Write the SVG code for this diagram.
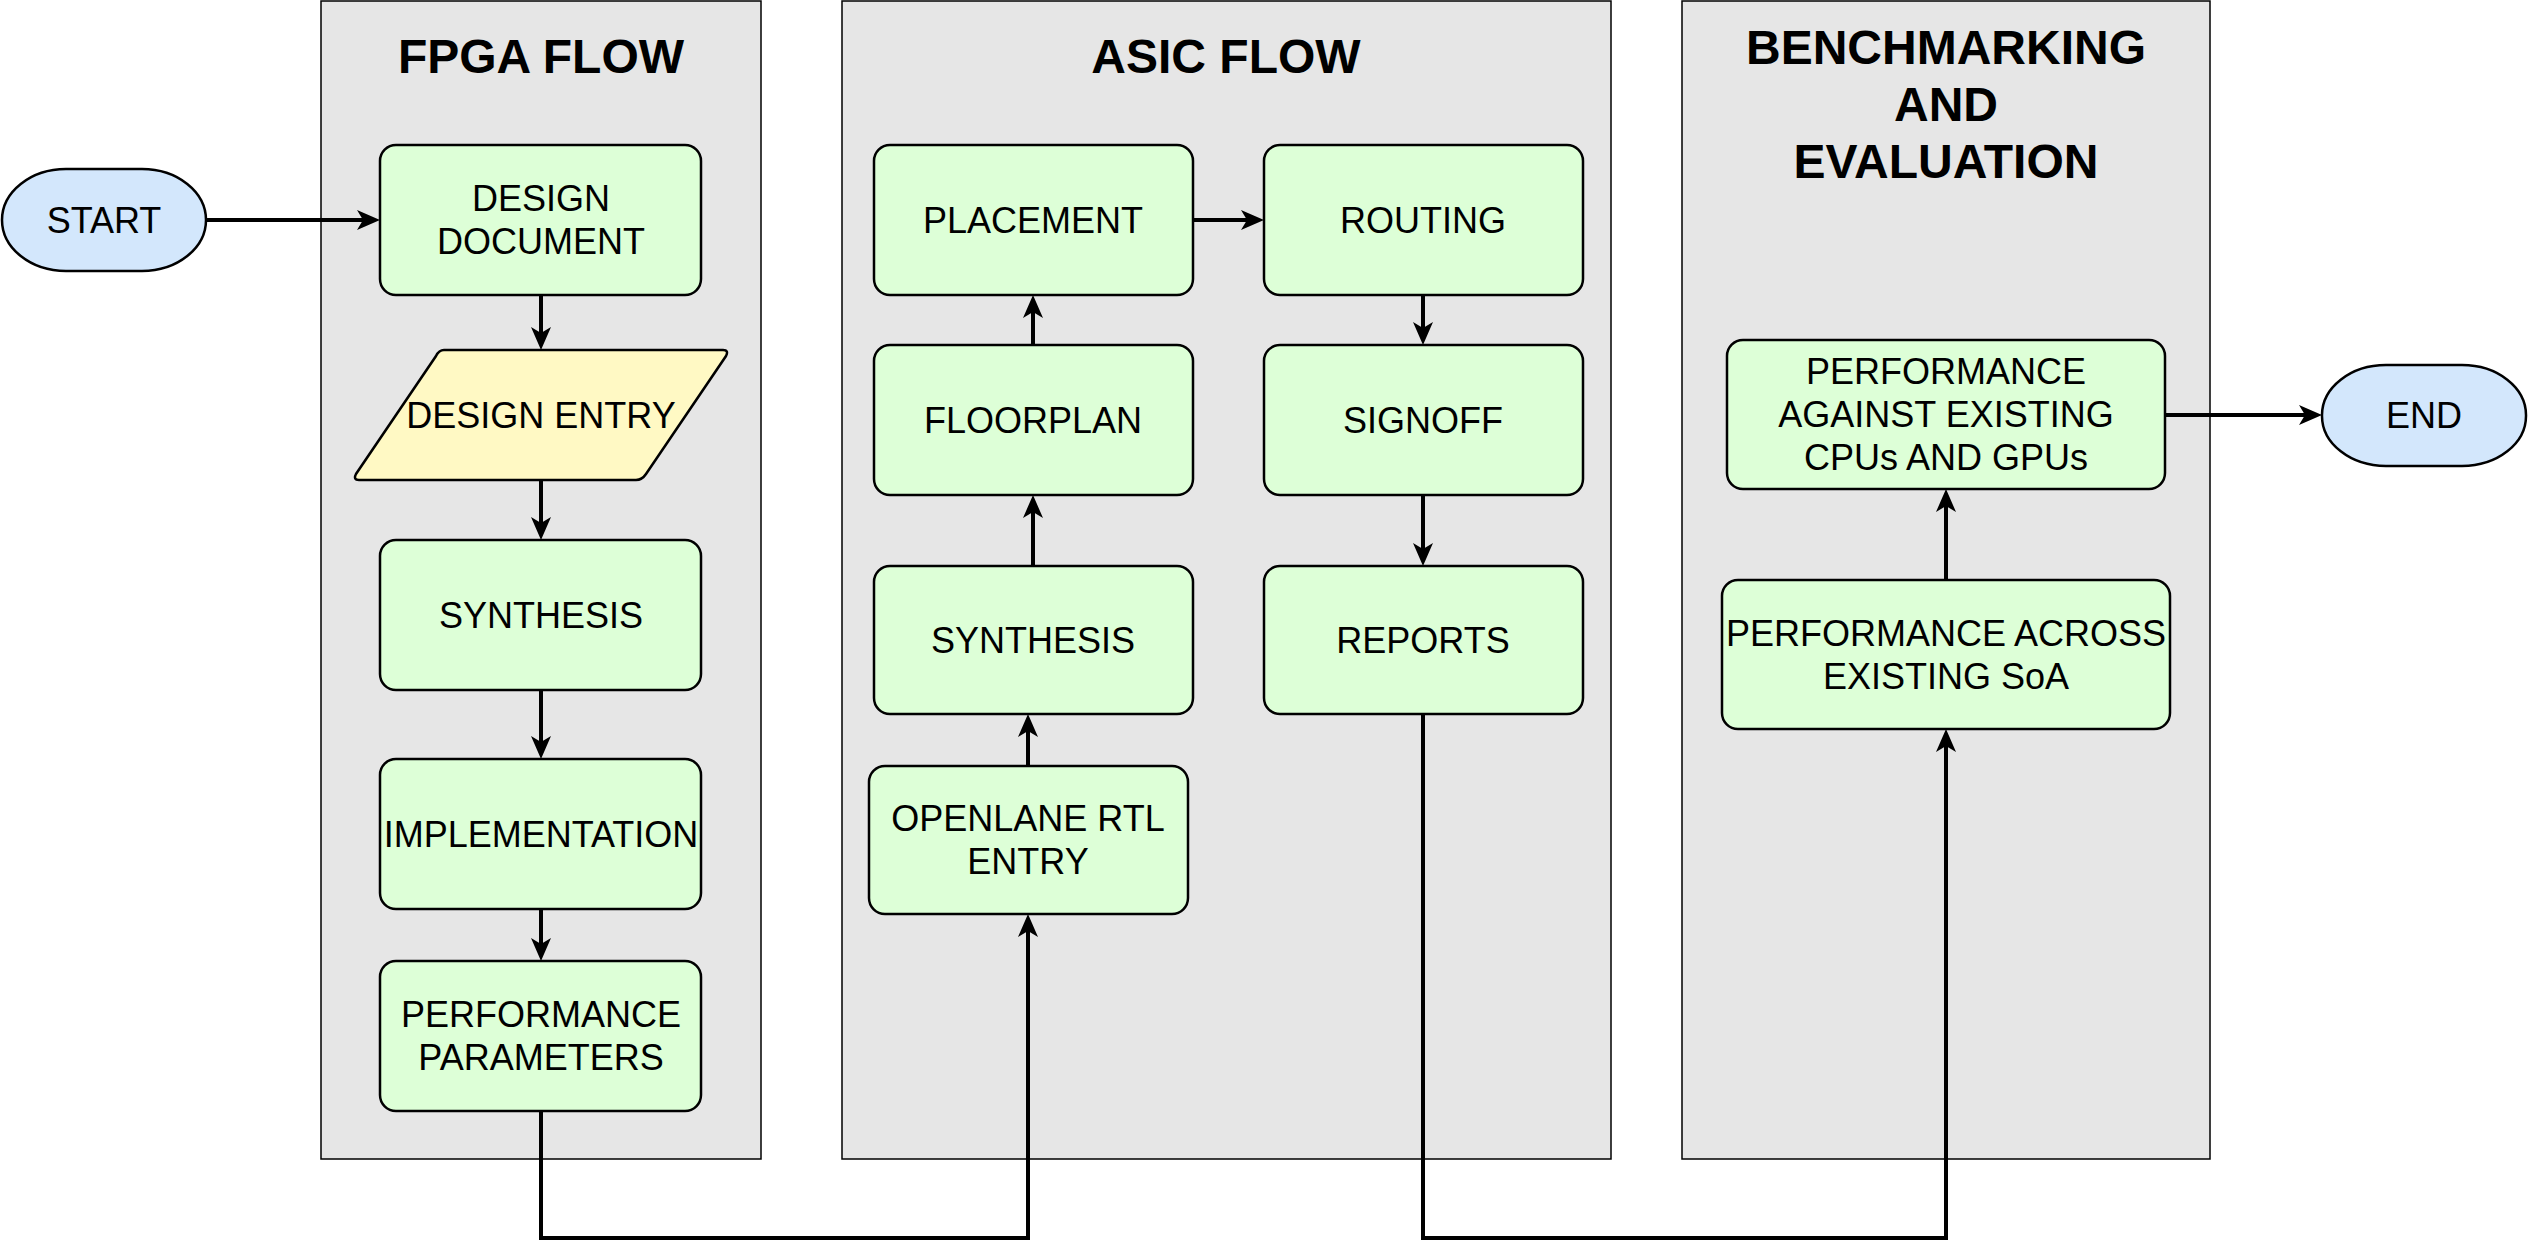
<svg xmlns="http://www.w3.org/2000/svg" width="2528" height="1251" viewBox="0 0 2528 1251">
<style>
  .lane { fill: #E6E6E6; stroke: #000; stroke-width: 1.5; }
  .title { font-family: "Liberation Sans", Arial, sans-serif; font-size: 48px; font-weight: bold; fill: #000; text-anchor: middle; }
  .box { fill: #DDFFD7; stroke: #000; stroke-width: 2.5; }
  .io { fill: #FFF9C4; stroke: #000; stroke-width: 2.5; }
  .term { fill: #D3E7FC; stroke: #000; stroke-width: 2.5; }
  .lbl { font-family: "Liberation Sans", Arial, sans-serif; font-size: 36px; fill: #000; text-anchor: middle; }
  .edge { fill: none; stroke: #000; stroke-width: 4; }
</style>
<defs>
  <marker id="arr" viewBox="0 0 24 22" refX="14" refY="11" markerWidth="24" markerHeight="22" markerUnits="userSpaceOnUse" orient="auto" overflow="visible">
    <path d="M23,11 L0,1 L6,11 L0,21 Z" fill="#000" stroke="none"/>
  </marker>
</defs>
<rect width="2528" height="1251" fill="#FFFFFF"/>

<g id="lane-fpga">
  <rect class="lane" x="321" y="1" width="440" height="1158"/>
  <text class="title" x="541" y="73">FPGA FLOW</text>
</g>
<g id="lane-asic">
  <rect class="lane" x="842" y="1" width="769" height="1158"/>
  <text class="title" x="1226" y="73">ASIC FLOW</text>
</g>
<g id="lane-bench">
  <rect class="lane" x="1682" y="1" width="528" height="1158"/>
  <text class="title" x="1946" y="64">BENCHMARKING</text>
  <text class="title" x="1946" y="121">AND</text>
  <text class="title" x="1946" y="178">EVALUATION</text>
</g>

<g id="start">
  <rect class="term" x="2" y="169" width="204" height="102" rx="64" ry="51"/>
  <text class="lbl" x="104" y="233">START</text>
</g>
<g id="design-document">
  <rect class="box" x="380" y="145" width="321" height="150" rx="16"/>
  <text class="lbl" x="541" y="211">DESIGN</text>
  <text class="lbl" x="541" y="254">DOCUMENT</text>
</g>
<g id="design-entry">
  <path class="io" d="M444,350 H723 Q729,350 726,356 L646,474 Q642,480 636,480 H359 Q353,480 356,474 L436,356 Q439,350 444,350 Z"/>
  <text class="lbl" x="541" y="428">DESIGN ENTRY</text>
</g>
<g id="fpga-synthesis">
  <rect class="box" x="380" y="540" width="321" height="150" rx="16"/>
  <text class="lbl" x="541" y="628">SYNTHESIS</text>
</g>
<g id="implementation">
  <rect class="box" x="380" y="759" width="321" height="150" rx="16"/>
  <text class="lbl" x="541" y="847">IMPLEMENTATION</text>
</g>
<g id="performance-parameters">
  <rect class="box" x="380" y="961" width="321" height="150" rx="16"/>
  <text class="lbl" x="541" y="1027">PERFORMANCE</text>
  <text class="lbl" x="541" y="1070">PARAMETERS</text>
</g>

<g id="placement">
  <rect class="box" x="874" y="145" width="319" height="150" rx="16"/>
  <text class="lbl" x="1033" y="233">PLACEMENT</text>
</g>
<g id="routing">
  <rect class="box" x="1264" y="145" width="319" height="150" rx="16"/>
  <text class="lbl" x="1423" y="233">ROUTING</text>
</g>
<g id="floorplan">
  <rect class="box" x="874" y="345" width="319" height="150" rx="16"/>
  <text class="lbl" x="1033" y="433">FLOORPLAN</text>
</g>
<g id="signoff">
  <rect class="box" x="1264" y="345" width="319" height="150" rx="16"/>
  <text class="lbl" x="1423" y="433">SIGNOFF</text>
</g>
<g id="asic-synthesis">
  <rect class="box" x="874" y="566" width="319" height="148" rx="16"/>
  <text class="lbl" x="1033" y="653">SYNTHESIS</text>
</g>
<g id="reports">
  <rect class="box" x="1264" y="566" width="319" height="148" rx="16"/>
  <text class="lbl" x="1423" y="653">REPORTS</text>
</g>
<g id="openlane-rtl-entry">
  <rect class="box" x="869" y="766" width="319" height="148" rx="16"/>
  <text class="lbl" x="1028" y="831">OPENLANE RTL</text>
  <text class="lbl" x="1028" y="874">ENTRY</text>
</g>

<g id="perf-cpus-gpus">
  <rect class="box" x="1727" y="340" width="438" height="149" rx="16"/>
  <text class="lbl" x="1946" y="384">PERFORMANCE</text>
  <text class="lbl" x="1946" y="427">AGAINST EXISTING</text>
  <text class="lbl" x="1946" y="470">CPUs AND GPUs</text>
</g>
<g id="perf-soa">
  <rect class="box" x="1722" y="580" width="448" height="149" rx="16"/>
  <text class="lbl" x="1946" y="646">PERFORMANCE ACROSS</text>
  <text class="lbl" x="1946" y="689">EXISTING SoA</text>
</g>
<g id="end">
  <rect class="term" x="2322" y="365" width="204" height="101" rx="64" ry="50"/>
  <text class="lbl" x="2424" y="428">END</text>
</g>

<g id="connectors">
  <path class="edge" marker-end="url(#arr)" d="M207,220 H371"/>
  <path class="edge" marker-end="url(#arr)" d="M541,296 V341"/>
  <path class="edge" marker-end="url(#arr)" d="M541,481 V531"/>
  <path class="edge" marker-end="url(#arr)" d="M541,691 V750"/>
  <path class="edge" marker-end="url(#arr)" d="M541,910 V952"/>
  <path class="edge" marker-end="url(#arr)" d="M541,1112 V1238 H1028 V923"/>
  <path class="edge" marker-end="url(#arr)" d="M1028,765 V723"/>
  <path class="edge" marker-end="url(#arr)" d="M1033,565 V504"/>
  <path class="edge" marker-end="url(#arr)" d="M1033,344 V304"/>
  <path class="edge" marker-end="url(#arr)" d="M1194,220 H1255"/>
  <path class="edge" marker-end="url(#arr)" d="M1423,296 V336"/>
  <path class="edge" marker-end="url(#arr)" d="M1423,496 V557"/>
  <path class="edge" marker-end="url(#arr)" d="M1423,715 V1238 H1946 V738"/>
  <path class="edge" marker-end="url(#arr)" d="M1946,579 V498"/>
  <path class="edge" marker-end="url(#arr)" d="M2166,415 H2313"/>
</g>
</svg>
